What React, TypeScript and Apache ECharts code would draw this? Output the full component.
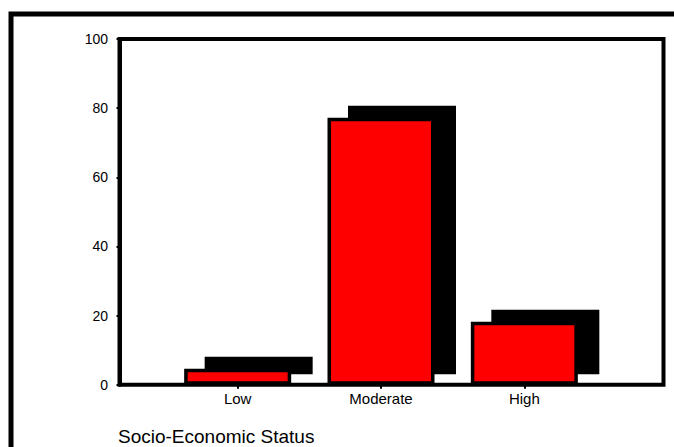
import React, { useEffect, useRef } from "react";
import * as echarts from "echarts";

const categories = ["Low", "Moderate", "High"];
const values = [4.6, 77.2, 18.2];
const yMin = 0;
const yMax = 100;
const yInterval = 20;
const axisTitle = "Socio-Economic Status";

const FONT = "'Liberation Sans', Arial, sans-serif";

export default function App() {
  const ref = useRef<HTMLDivElement>(null);
  useEffect(() => {
    if (!ref.current) return;
    const chart = echarts.init(ref.current, null, { renderer: "svg" });
    const shadowDx = 21;
    const shadowDy = -11;
    const shadowW = 108;
    chart.setOption({
      animation: false,
      backgroundColor: "#fff",
      textStyle: { fontFamily: FONT },
      title: {
        text: axisTitle,
        left: 118,
        top: 427,
        padding: 0,
        textStyle: { fontFamily: FONT, fontSize: 19, fontWeight: "normal", color: "#000" },
      },
      graphic: [
        {
          type: "rect",
          shape: { x: 11, y: 14, width: 720, height: 520 },
          style: { fill: "none", stroke: "#000", lineWidth: 5 },
          silent: true,
        },
      ],
      grid: [
        {
          left: 119.5,
          top: 39,
          width: 544,
          height: 345.7,
          show: true,
          borderColor: "#000",
          borderWidth: 4,
          backgroundColor: "transparent",
        },
        { left: 166, top: 39, width: 430, height: 345.7 },
      ],
      xAxis: [
        { type: "value", gridIndex: 0, min: 0, max: 1, show: false },
        {
          type: "category",
          gridIndex: 1,
          data: categories,
          boundaryGap: true,
          axisLine: { show: false },
          axisTick: { show: true, alignWithLabel: true, length: 4, lineStyle: { color: "#000", width: 2 } },
          axisLabel: { fontSize: 15, color: "#000", margin: 6, fontFamily: FONT },
        },
      ],
      yAxis: [
        {
          type: "value",
          gridIndex: 0,
          min: yMin,
          max: yMax,
          interval: yInterval,
          axisLine: { show: true, lineStyle: { color: "#000", width: 4 } },
          axisTick: { show: true, inside: false, length: 3, lineStyle: { color: "#000", width: 2 } },
          axisLabel: { fontSize: 14, color: "#000", margin: 11.5, fontFamily: FONT },
          splitLine: { show: false },
        },
        { type: "value", gridIndex: 1, min: yMin, max: yMax, show: false },
      ],
      series: [
        {
          type: "custom",
          xAxisIndex: 1,
          yAxisIndex: 1,
          z: 2,
          data: values.map((v, i) => [i, v]),
          encode: { x: 0, y: 1 },
          renderItem: (params: any, api: any) => {
            const idx = api.value(0);
            const v = api.value(1);
            const top = api.coord([idx, v]);
            const base = api.coord([idx, 0]);
            const y0 = top[1] + shadowDy - 1;
            const y1 = base[1] + shadowDy + 0.5;
            return {
              type: "rect",
              shape: { x: top[0] - shadowW / 2 + shadowDx, y: y0, width: shadowW, height: y1 - y0 },
              style: { fill: "#000" },
            };
          },
        },
        {
          type: "bar",
          xAxisIndex: 1,
          yAxisIndex: 1,
          z: 3,
          data: values,
          barWidth: 107,
          itemStyle: { color: "#ff0000", borderColor: "#000", borderWidth: 3.5 },
        },
      ],
    });
    return () => chart.dispose();
  }, []);
  return (
    <div
      ref={ref}
      style={{ position: "fixed", left: 0, top: 0, width: 674, height: 447 }}
    />
  );
}
